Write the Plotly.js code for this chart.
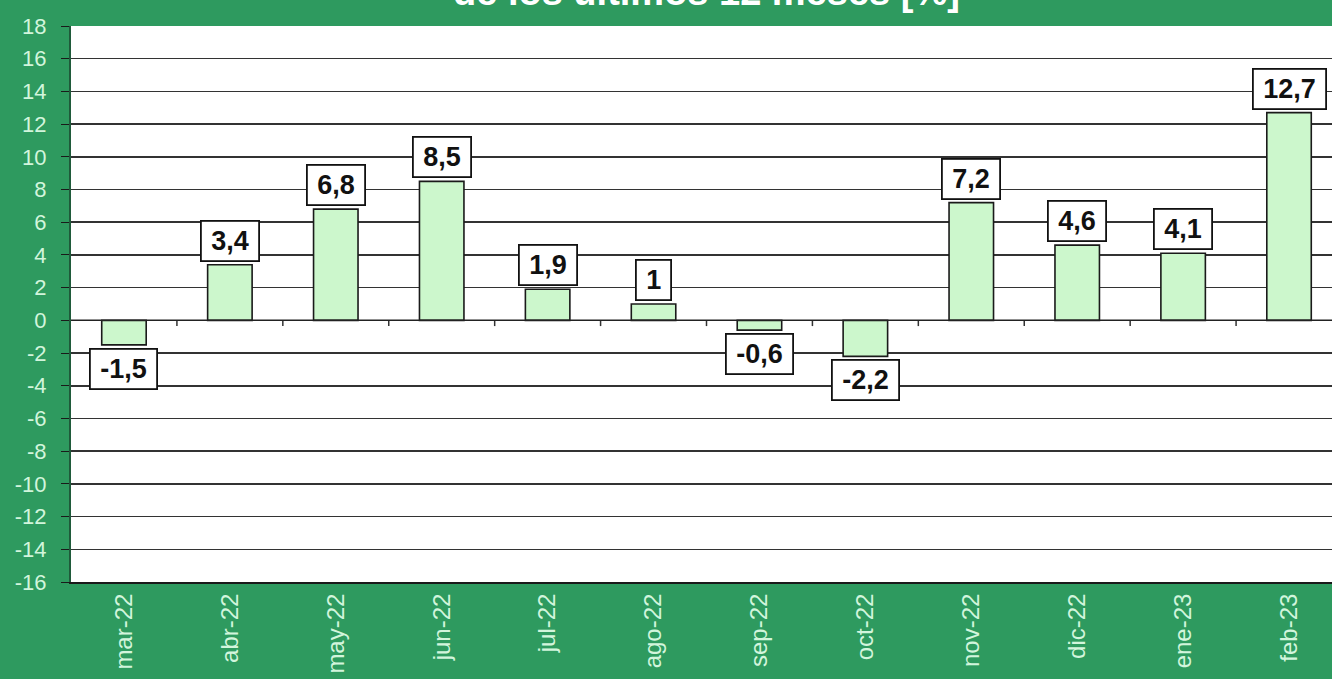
<!DOCTYPE html>
<html>
<head>
<meta charset="utf-8">
<script src="https://cdn.plot.ly/plotly-3.0.1.min.js"></script>
<style>
html,body{margin:0;padding:0;overflow:hidden;background:#2e9a5f;}
#chart{width:1345px;height:679px;}
</style>
</head>
<body>
<div id="chart"></div>
<script>
var categories = ["mar-22","abr-22","may-22","jun-22","jul-22","ago-22","sep-22","oct-22","nov-22","dic-22","ene-23","feb-23"];
var values = [-1.5, 3.4, 6.8, 8.5, 1.9, 1, -0.6, -2.2, 7.2, 4.6, 4.1, 12.7];
var valueLabels = ["-1,5","3,4","6,8","8,5","1,9","1","-0,6","-2,2","7,2","4,6","4,1","12,7"];
var yTicks = [18,16,14,12,10,8,6,4,2,0,-2,-4,-6,-8,-10,-12,-14,-16];
var titleText = "de los últimos 12 meses [%]";

var n = categories.length;
var xIdx = categories.map(function(_, i){ return i; });

var trace = {
  type: "bar",
  x: xIdx,
  y: values,
  width: 0.42,
  marker: {color: "#ccf7cc", line: {color: "#1a1a1a", width: 1.6}},
  hoverinfo: "none"
};

var pad = "\u2009";
var annotations = values.map(function(v, i){
  return {
    x: i, y: v, xref: "x", yref: "y",
    text: pad + valueLabels[i] + pad,
    showarrow: false,
    yanchor: v >= 0 ? "bottom" : "top",
    yshift: v >= 0 ? 3 : -3,
    font: {family: "Arial, Liberation Sans, sans-serif", size: 27, color: "#111", weight: "bold"},
    bgcolor: "#ffffff",
    bordercolor: "#111",
    borderwidth: 1.8,
    borderpad: 4
  };
});
annotations.push({
  xref: "paper", yref: "paper", x: 0.5, y: 1.0198,
  xanchor: "center", yanchor: "bottom",
  text: "<b>" + titleText + "</b>",
  showarrow: false,
  font: {family: "Arial, Liberation Sans, sans-serif", size: 38, color: "#ffffff"}
});

var shapes = [];
for (var k = 0; k < n - 1; k++) {
  shapes.push({type: "line", xref: "x", yref: "y", x0: k + 0.5, x1: k + 0.5, y0: 0, y1: -0.35,
               line: {color: "#333", width: 1.5}});
}
shapes.push({type: "line", xref: "x", yref: "y", x0: -0.5, x1: n - 0.5, y0: 0, y1: 0,
             line: {color: "#222", width: 1.5}, layer: "above"});

var layout = {
  width: 1345, height: 679,
  margin: {l: 71, r: 3, t: 26, b: 97},
  paper_bgcolor: "#2e9a5f",
  plot_bgcolor: "#ffffff",
  showlegend: false,
  xaxis: {
    range: [-0.5, n - 0.5],
    tickmode: "array",
    tickvals: xIdx,
    ticktext: categories,
    tickangle: -90,
    ticks: "",
    showgrid: false,
    zeroline: false,
    showline: true,
    linecolor: "#1a1a1a",
    linewidth: 2,
    tickfont: {family: "Arial, Liberation Sans, sans-serif", size: 24, color: "#d2f5dc"},
    fixedrange: true
  },
  yaxis: {
    range: [-16, 18],
    tickmode: "array",
    tickvals: yTicks,
    ticktext: yTicks.map(String),
    showgrid: true,
    gridcolor: "#333333",
    gridwidth: 1.5,
    zeroline: false,
    showline: true,
    linecolor: "#1f5a3a",
    linewidth: 2,
    ticks: "outside",
    ticklen: 8,
    tickcolor: "#1a1a1a",
    ticklabelstandoff: 10,
    tickfont: {family: "Arial, Liberation Sans, sans-serif", size: 22, color: "#d2f5dc"},
    fixedrange: true
  },
  annotations: annotations,
  shapes: shapes
};

Plotly.newPlot("chart", [trace], layout, {displayModeBar: false, staticPlot: true});
</script>
</body>
</html>
